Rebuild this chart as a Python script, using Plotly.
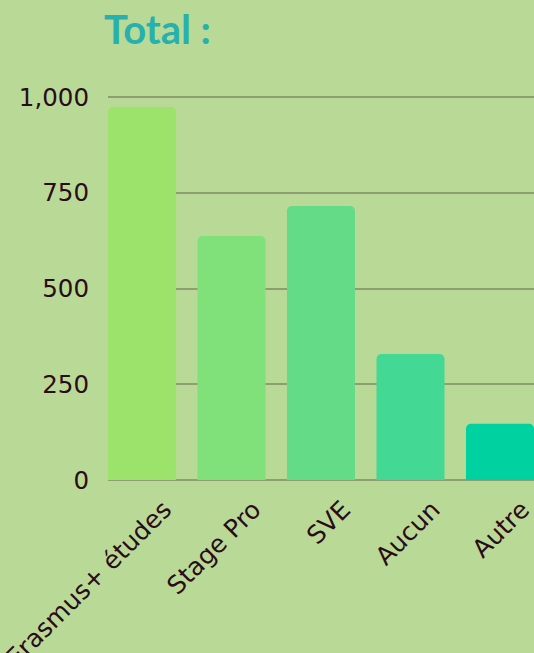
import plotly.graph_objects as go

categories = ["Erasmus+ études", "Stage Pro", "SVE", "Aucun", "Autre"]
values = [974, 637, 716, 329, 147]
bar_colors = ["#9ce36b", "#80e079", "#64db86", "#43d893", "#00d1a0"]
y_ticks = [0, 250, 500, 750, 1000]
y_tick_labels = ["0", "250", "500", "750", "1,000"]

fig = go.Figure(go.Bar(x=categories, y=values, marker=dict(color=bar_colors, line=dict(width=0))))

fig.update_layout(
    width=534, height=653,
    paper_bgcolor="#b8da96", plot_bgcolor="#b8da96",
    margin=dict(l=108, r=0, t=96, b=173, autoexpand=False),
    bargap=0.24, barcornerradius=5,
    showlegend=False,
    font=dict(family="DejaVu Sans", color="#2b0b17"),
    title=dict(text="Total :", x=104/534, xanchor="left", y=1-30/653, yanchor="middle",
               font=dict(family="Lato", size=40, color="#27b0ae", weight="bold")),
)
fig.update_xaxes(range=[-0.38, 4.38], tickangle=-45, tickfont=dict(size=25),
                 showgrid=False, zeroline=False, showline=False, automargin=False,
                 ticklabelstandoff=9, ticklabelshift=22)
fig.update_yaxes(range=[0, 1003], tickvals=y_ticks, ticktext=y_tick_labels,
                 tickfont=dict(size=24.5), showgrid=True, gridcolor="#8e9e72", gridwidth=2,
                 zeroline=True, zerolinecolor="#8e9e72", zerolinewidth=2, automargin=False,
                 ticklabelstandoff=18)

fig.write_html("out.html", config={"displayModeBar": False},
               post_script="document.body.style.margin='0';document.body.style.padding='0';")
